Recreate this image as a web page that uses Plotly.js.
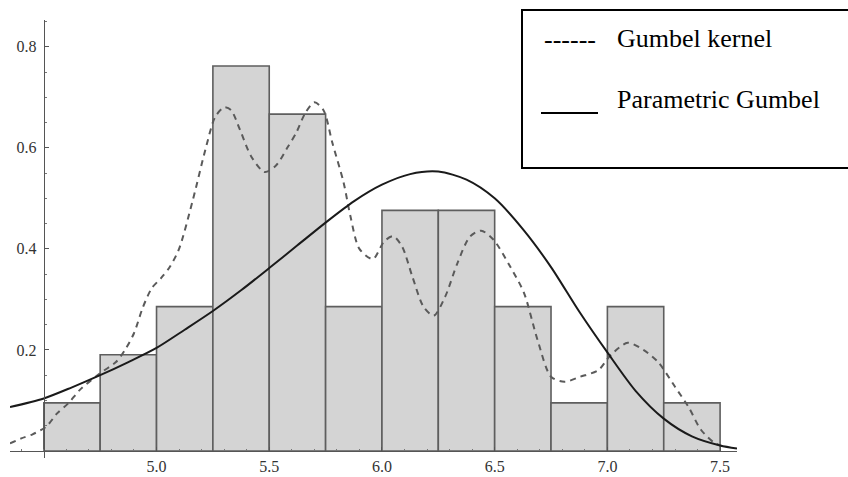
<!DOCTYPE html>
<html>
<head>
<meta charset="utf-8">
<script src="https://cdn.plot.ly/plotly-3.0.1.min.js"></script>
<style>html,body{margin:0;padding:0;background:#fff;}#chart{width:848px;height:477px;}</style>
</head>
<body>
<div id="chart"></div>
<script>
// Histogram (density) bins
const binCenters = [4.625, 4.875, 5.125, 5.375, 5.625, 5.875, 6.125, 6.375, 6.625, 6.875, 7.125, 7.375];
const binDensity = [0.0952, 0.1905, 0.2857, 0.7619, 0.6667, 0.2857, 0.4762, 0.4762, 0.2857, 0.0952, 0.2857, 0.0952];

// Gumbel kernel density (dashed)
const kernelX = [4.35, 4.40, 4.45, 4.51, 4.56, 4.61, 4.66, 4.75, 4.82, 4.86, 4.90, 4.94, 4.98, 5.02, 5.06, 5.10, 5.16, 5.22, 5.26, 5.30, 5.33, 5.37, 5.42, 5.48, 5.53, 5.58, 5.62, 5.66, 5.70, 5.74, 5.78, 5.83, 5.86, 5.90, 5.96, 6.01, 6.05, 6.09, 6.135, 6.185, 6.23, 6.28, 6.335, 6.39, 6.44, 6.495, 6.57, 6.63, 6.69, 6.75, 6.81, 6.88, 6.96, 7.015, 7.09, 7.16, 7.225, 7.30, 7.36, 7.415, 7.475, 7.52];
const kernelY = [0.015, 0.025, 0.033, 0.048, 0.075, 0.095, 0.121, 0.154, 0.176, 0.200, 0.233, 0.285, 0.323, 0.342, 0.365, 0.400, 0.495, 0.602, 0.661, 0.680, 0.675, 0.636, 0.583, 0.552, 0.565, 0.600, 0.630, 0.669, 0.690, 0.675, 0.610, 0.531, 0.465, 0.400, 0.380, 0.415, 0.425, 0.404, 0.345, 0.285, 0.268, 0.305, 0.372, 0.424, 0.436, 0.418, 0.364, 0.313, 0.220, 0.147, 0.137, 0.147, 0.160, 0.190, 0.214, 0.200, 0.176, 0.127, 0.087, 0.042, 0.016, 0.008];

// Parametric Gumbel density (solid)
const paramX = [4.35, 4.5, 4.625, 4.75, 4.875, 5.0, 5.125, 5.25, 5.375, 5.5, 5.625, 5.75, 5.875, 6.0, 6.125, 6.25, 6.375, 6.5, 6.625, 6.75, 6.875, 7.0, 7.125, 7.25, 7.375, 7.5, 7.575];
const paramY = [0.087, 0.104, 0.126, 0.150, 0.176, 0.204, 0.240, 0.277, 0.318, 0.362, 0.407, 0.452, 0.494, 0.527, 0.548, 0.553, 0.537, 0.500, 0.439, 0.364, 0.276, 0.195, 0.119, 0.064, 0.029, 0.011, 0.005];

// Tick labels
const xTickVals = [5.0, 5.5, 6.0, 6.5, 7.0, 7.5];
const xTickText = ["5.0", "5.5", "6.0", "6.5", "7.0", "7.5"];
const yTickVals = [0.2, 0.4, 0.6, 0.8];
const yTickText = ["0.2", "0.4", "0.6", "0.8"];

const legendLabels = ["Gumbel kernel", "Parametric Gumbel"];

const W = 848, H = 477;
const mL = 10, mR = 111, mT = 20, mB = 19;
const xRange = [4.35, 7.575];
const yRange = [-0.0139, 0.853];
const plotW = W - mL - mR, plotH = H - mT - mB;
const px = v => (v - mL) / plotW;
const py = v => (H - mB - v) / plotH;

const serif = "Liberation Serif, Times New Roman, serif";

const traces = [
  {
    type: 'bar', x: binCenters, y: binDensity, width: 0.25,
    marker: {color: '#d4d4d4', line: {color: '#5e5e5e', width: 1.6}},
    hoverinfo: 'skip', showlegend: false
  },
  {
    type: 'scatter', mode: 'lines', x: kernelX, y: kernelY,
    line: {color: '#5a5a5a', width: 2, dash: '6px,5px', shape: 'spline', smoothing: 0.8},
    showlegend: false
  },
  {
    type: 'scatter', mode: 'lines', x: paramX, y: paramY,
    line: {color: '#1a1a1a', width: 2, shape: 'spline', smoothing: 0.8},
    showlegend: false
  }
];

const layout = {
  width: W, height: H,
  margin: {l: mL, r: mR, t: mT, b: mB},
  paper_bgcolor: '#fff', plot_bgcolor: '#fff',
  showlegend: false,
  bargap: 0,
  xaxis: {
    range: xRange, anchor: 'free',
    position: (0 - yRange[0]) / (yRange[1] - yRange[0]),
    showgrid: false, zeroline: false,
    showline: true, linecolor: '#555', linewidth: 1.3,
    tickmode: 'array', tickvals: xTickVals, ticktext: xTickText,
    ticks: 'inside', ticklen: 4, tickcolor: '#555', tickwidth: 1,
    minor: {tick0: 4.5, dtick: 0.1, ticks: 'inside', ticklen: 2, tickcolor: '#777'},
    tickfont: {family: serif, size: 16, color: '#333'},
    ticklabelstandoff: 1,
    automargin: false, fixedrange: true
  },
  yaxis: {
    range: yRange, anchor: 'free',
    position: (4.5 - xRange[0]) / (xRange[1] - xRange[0]),
    showgrid: false, zeroline: false,
    showline: true, linecolor: '#555', linewidth: 1.3,
    tickmode: 'array', tickvals: yTickVals, ticktext: yTickText,
    ticks: 'inside', ticklen: 4, tickcolor: '#555', tickwidth: 1,
    minor: {tick0: 0, dtick: 0.05, ticks: 'inside', ticklen: 2, tickcolor: '#777'},
    tickfont: {family: serif, size: 16, color: '#333'},
    ticklabelstandoff: 4,
    automargin: false, fixedrange: true
  },
  shapes: [
    {type: 'rect', xref: 'paper', yref: 'paper', x0: px(522), x1: px(860), y0: py(168), y1: py(10),
     line: {color: '#000', width: 2}, fillcolor: '#fff', layer: 'above'},
    {type: 'line', xref: 'paper', yref: 'paper', x0: px(541), x1: px(598), y0: py(113), y1: py(113),
     line: {color: '#000', width: 2.2}, layer: 'above'}
  ],
  annotations: [
    {xref: 'paper', yref: 'paper', x: px(542), y: py(39), xanchor: 'left', yanchor: 'middle',
     text: '------', showarrow: false, font: {family: serif, size: 26, color: '#000'}},
    {xref: 'paper', yref: 'paper', x: px(615), y: py(38), xanchor: 'left', yanchor: 'middle',
     text: legendLabels[0], showarrow: false, font: {family: serif, size: 26, color: '#000'}},
    {xref: 'paper', yref: 'paper', x: px(615), y: py(99), xanchor: 'left', yanchor: 'middle',
     text: legendLabels[1], showarrow: false, font: {family: serif, size: 26, color: '#000'}}
  ]
};

Plotly.newPlot('chart', traces, layout, {displayModeBar: false, staticPlot: true});
</script>
</body>
</html>
